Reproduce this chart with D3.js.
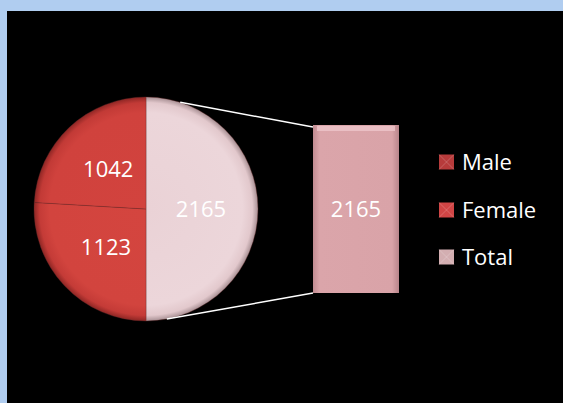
<!DOCTYPE html>
<html><head><meta charset="utf-8">
<script src="https://cdn.jsdelivr.net/npm/d3@7"></script>
<style>html,body{margin:0;padding:0;background:#b0cdf0;}svg{display:block;}</style>
</head><body>
<script>
// Data
const categories = ["Male", "Female", "Total"];
const values = [1042, 1123, 2165];
const barValues = [2165];
const pieOrder = ["Total", "Female", "Male"];

const W = 563, H = 403;
const svg = d3.select("body").append("svg").attr("width", W).attr("height", H);
svg.append("rect").attr("width", W).attr("height", H).attr("fill", "#b0cdf0");
svg.append("rect").attr("x", 7).attr("y", 11).attr("width", W - 7).attr("height", H - 11).attr("fill", "#000");

const defs = svg.append("defs");
function radial(id, stops, r) {
  const g = defs.append("radialGradient").attr("id", id)
    .attr("gradientUnits", "userSpaceOnUse").attr("cx", 0).attr("cy", 0).attr("r", r);
  stops.forEach(([o, c]) => g.append("stop").attr("offset", o).attr("stop-color", c));
}
const cx = 146, cy = 209, R = 112;
radial("gMale", [["0%", "#d2433e"], ["86%", "#d0423d"], ["95%", "#c23a36"], ["100%", "#8e2624"]], R);
radial("gFemale", [["0%", "#d4453f"], ["86%", "#d2443e"], ["95%", "#c43b37"], ["100%", "#8e2624"]], R);
radial("gTotal", [["0%", "#ead2d6"], ["86%", "#ecd6da"], ["95%", "#e2c8cc"], ["100%", "#a89094"]], R);

const fills = { Male: "url(#gMale)", Female: "url(#gFemale)", Total: "url(#gTotal)" };
const legendColors = { Male: "#b73b3b", Female: "#d04545", Total: "#d3aeb1" };
const valueOf = Object.fromEntries(categories.map((c, i) => [c, values[i]]));

const pie = d3.pie().sort(null).value(d => valueOf[d]);
const arcs = pie(pieOrder);
const arc = d3.arc().innerRadius(0).outerRadius(R);
const labelArc = d3.arc().innerRadius(55).outerRadius(55);

const pg = svg.append("g").attr("transform", `translate(${cx},${cy})`);
pg.selectAll("path").data(arcs).join("path")
  .attr("d", arc).attr("fill", d => fills[d.data])
  .attr("stroke", "#6a2a2a").attr("stroke-opacity", 0.35).attr("stroke-width", 1);

pg.selectAll("text").data(arcs).join("text")
  .attr("transform", d => `translate(${labelArc.centroid(d)})`)
  .attr("text-anchor", "middle").attr("dy", "0.36em")
  .attr("font-family", "Open Sans, sans-serif").attr("font-size", 22)
  .attr("fill", "#fff").text(d => valueOf[d.data]);

// Bar of pie
const bx = 313, bw = 86, btop = 125;
const y = d3.scaleLinear().domain([0, d3.sum(barValues)]).range([0, 168]);
const barGrad = defs.append("linearGradient").attr("id", "gBar").attr("x1", 0).attr("x2", 1);
barGrad.append("stop").attr("offset", "0%").attr("stop-color", "#c08a90");
barGrad.append("stop").attr("offset", "8%").attr("stop-color", "#dba5aa");
barGrad.append("stop").attr("offset", "92%").attr("stop-color", "#d9a3a8");
barGrad.append("stop").attr("offset", "100%").attr("stop-color", "#b8848a");
const bg = svg.append("g");
bg.selectAll("rect").data(barValues).join("rect")
  .attr("x", bx).attr("y", btop).attr("width", bw).attr("height", d => y(d))
  .attr("fill", "url(#gBar)");
bg.append("rect").attr("x", bx + 4).attr("y", btop + 1).attr("width", bw - 8).attr("height", 5)
  .attr("fill", "#eec6ca").attr("opacity", 0.8);
bg.selectAll("text.v").data(barValues).join("text").attr("class", "v")
  .attr("x", bx + bw / 2).attr("y", d => btop + y(d) / 2).attr("dy", "0.36em")
  .attr("text-anchor", "middle").attr("font-family", "Open Sans, sans-serif").attr("font-size", 22)
  .attr("fill", "#fff").text(d => d);

// Connector lines
const aTop = 17.8 * Math.PI / 180, aBot = Math.PI - 10.7 * Math.PI / 180;
const p1 = [cx + R * Math.sin(aTop), cy - R * Math.cos(aTop)];
const p2 = [cx + R * Math.sin(aBot), cy - R * Math.cos(aBot)];
svg.append("line").attr("x1", p1[0]).attr("y1", p1[1]).attr("x2", bx).attr("y2", btop + 2)
  .attr("stroke", "#fff").attr("stroke-width", 1.5);
svg.append("line").attr("x1", p2[0]).attr("y1", p2[1]).attr("x2", bx).attr("y2", btop + y(d3.sum(barValues)))
  .attr("stroke", "#fff").attr("stroke-width", 1.5);

// Legend
const lg = svg.append("g");
const ly = [162, 210, 257];
categories.forEach((c, i) => {
  lg.append("rect").attr("x", 439).attr("y", ly[i] - 7.5).attr("width", 15).attr("height", 15)
    .attr("fill", legendColors[c]);
  lg.append("path").attr("d", `M${439},${ly[i]-7.5}L${446.5},${ly[i]}L${454},${ly[i]-7.5}M${439},${ly[i]+7.5}L${446.5},${ly[i]}L${454},${ly[i]+7.5}`)
    .attr("stroke", "#fff").attr("stroke-opacity", 0.2).attr("fill", "none");
  lg.append("text").attr("x", 462).attr("y", ly[i]).attr("dy", "0.36em")
    .attr("font-family", "Open Sans, sans-serif").attr("font-size", 22)
    .attr("fill", "#fff").text(c);
});
</script>
</body></html>
